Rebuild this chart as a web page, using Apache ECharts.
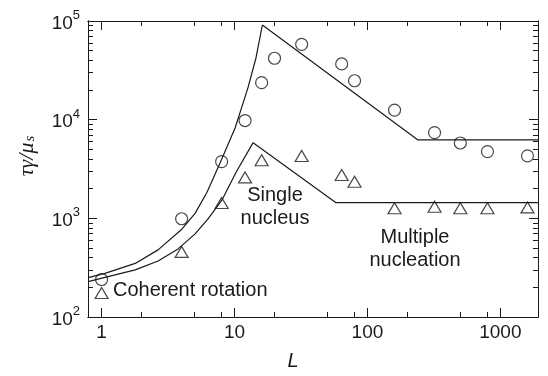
<!DOCTYPE html>
<html>
<head>
<meta charset="utf-8">
<script src="https://cdn.jsdelivr.net/npm/echarts@6/dist/echarts.min.js"></script>
<style>
html, body { margin: 0; padding: 0; background: #fff; }
#chart { width: 548px; height: 376px; }
</style>
</head>
<body>
<div id="chart"></div>
<script>
// measured points
const circleL = [1, 4, 8, 12, 16, 20, 32, 64, 80, 160, 320, 500, 800, 1600];
const circleVal = [240, 990, 3760, 9800, 23700, 41900, 58000, 36700, 24800, 12500, 7400, 5800, 4750, 4300];
const triL = [1, 4, 8, 12, 16, 32, 64, 80, 160, 320, 500, 800, 1600];
const triVal = [175, 457, 1430, 2600, 3880, 4280, 2750, 2350, 1265, 1310, 1265, 1265, 1290];

// model lines
const upperCurveL = [0.792, 1.06, 1.79, 2.66, 4.03, 5.05, 6.21, 7.78, 10.1, 12.6, 14.5, 16.2];
const upperCurveVal = [251, 277, 349, 479, 781, 1122, 1841, 3640, 8240, 20900, 42200, 91100];
const upperLineL = [16.2, 240, 1920];
const upperLineVal = [91100, 6230, 6230];
const lowerCurveL = [0.792, 1.06, 1.79, 2.66, 3.76, 5.05, 6.32, 8.05, 10.3, 13.8];
const lowerCurveVal = [228, 252, 300, 370, 490, 695, 986, 1536, 2950, 5850];
const lowerLineL = [13.8, 58, 1920];
const lowerLineVal = [5850, 1440, 1440];

// ticks
const xMajor = [1, 10, 100, 1000];
const xMinor = [2, 5, 8, 20, 50, 80, 200, 500, 800];
const yMajor = [100, 1000, 10000, 100000];
const yMinor = [200, 300, 400, 500, 600, 700, 800, 900,
  2000, 3000, 4000, 5000, 6000, 7000, 8000, 9000,
  20000, 30000, 40000, 50000, 60000, 70000, 80000, 90000];

const xMin = 0.79, xMax = 1920;
const yMin = 100, yMax = 100000;

const FONT = 'Liberation Sans';
const INK = '#1a1a1a';

const zip = (a, b) => a.map((v, i) => [v, b[i]]);

function xAxisOf(position, ticks, len, withLabels) {
  return {
    type: 'log',
    logBase: 10,
    gridIndex: 0,
    position: position,
    min: xMin,
    max: xMax,
    axisLine: { show: true, lineStyle: { color: INK, width: 1 } },
    axisTick: { show: true, inside: true, length: len, customValues: ticks, lineStyle: { color: INK, width: 1 } },
    axisLabel: {
      show: withLabels,
      customValues: xMajor,
      margin: 6,
      fontSize: 19,
      fontFamily: FONT,
      color: INK,
      formatter: v => String(v)
    },
    splitLine: { show: false },
    minorTick: { show: false }
  };
}

function yAxisOf(position, ticks, len, withLabels) {
  return {
    type: 'log',
    logBase: 10,
    gridIndex: 0,
    position: position,
    min: yMin,
    max: yMax,
    axisLine: { show: true, lineStyle: { color: INK, width: 1 } },
    axisTick: { show: true, inside: true, length: len, customValues: ticks, lineStyle: { color: INK, width: 1 } },
    axisLabel: {
      show: withLabels,
      customValues: yMajor,
      margin: 8,
      color: INK,
      fontFamily: FONT,
      formatter: v => '{b|10}{s|' + Math.round(Math.log10(v)) + '}',
      rich: {
        b: { fontSize: 19, fontFamily: FONT, color: INK, lineHeight: 24, verticalAlign: 'bottom' },
        s: { fontSize: 13, fontFamily: FONT, color: INK, lineHeight: 14, verticalAlign: 'top' }
      }
    },
    splitLine: { show: false },
    minorTick: { show: false }
  };
}

const xAxes = [
  xAxisOf('bottom', xMajor, 9, true),
  xAxisOf('bottom', xMinor, 5, false),
  xAxisOf('top', xMajor, 9, false),
  xAxisOf('top', xMinor, 5, false)
];
Object.assign(xAxes[0], {
  name: 'L',
  nameLocation: 'middle',
  nameGap: 34,
  nameTextStyle: { fontSize: 20, fontStyle: 'italic', fontFamily: FONT, color: INK, padding: [0, 40, 0, 0] }
});

const yAxes = [
  yAxisOf('left', yMajor, 9, true),
  yAxisOf('left', yMinor, 5, false),
  yAxisOf('right', yMajor, 9, false),
  yAxisOf('right', yMinor, 5, false)
];
Object.assign(yAxes[0], {
  name: '{a|τγ/μ}{b|s}',
  nameLocation: 'middle',
  nameRotate: 90,
  nameGap: 50,
  nameTextStyle: {
    padding: [0, 0, 0, 26],
    rich: {
      a: { fontSize: 22, fontStyle: 'italic', fontFamily: 'Liberation Serif', color: INK },
      b: { fontSize: 15, fontStyle: 'italic', fontFamily: 'Liberation Serif', color: INK, verticalAlign: 'bottom', padding: [7, 0, 0, 1] }
    }
  }
});

const lineStyle = { color: INK, width: 1.2 };

function modelLine(xs, ys) {
  return {
    type: 'line',
    data: zip(xs, ys),
    showSymbol: false,
    symbol: 'none',
    smooth: false,
    lineStyle: lineStyle,
    silent: true,
    z: 2
  };
}

const chart = echarts.init(document.getElementById('chart'), null, { renderer: 'canvas' });
chart.setOption({
  animation: false,
  backgroundColor: '#fff',
  grid: { left: 88, right: 10, top: 21, bottom: 59, containLabel: false, outerBoundsMode: 'none' },
  xAxis: xAxes,
  yAxis: yAxes,
  series: [
    modelLine(upperCurveL, upperCurveVal),
    modelLine(upperLineL, upperLineVal),
    modelLine(lowerCurveL, lowerCurveVal),
    modelLine(lowerLineL, lowerLineVal),
    {
      type: 'scatter',
      data: zip(circleL, circleVal),
      symbol: 'circle',
      symbolSize: 12,
      itemStyle: { color: 'rgba(255,255,255,0)', borderColor: INK, borderWidth: 1.2 },
      z: 3
    },
    {
      type: 'scatter',
      data: zip(triL, triVal),
      symbol: 'triangle',
      symbolSize: [13, 11],
      itemStyle: { color: 'rgba(255,255,255,0)', borderColor: INK, borderWidth: 1.2 },
      z: 3
    }
  ],
  graphic: [
    {
      type: 'text', x: 113, y: 290,
      style: { text: 'Coherent rotation', font: '20px "Liberation Sans"', fill: INK, align: 'left', verticalAlign: 'middle' }
    },
    {
      type: 'text', x: 275, y: 184,
      style: { text: 'Single\nnucleus', font: '20px "Liberation Sans"', fill: INK, align: 'center', verticalAlign: 'top', lineHeight: 23 }
    },
    {
      type: 'text', x: 415, y: 226,
      style: { text: 'Multiple\nnucleation', font: '20px "Liberation Sans"', fill: INK, align: 'center', verticalAlign: 'top', lineHeight: 23 }
    }
  ]
});
</script>
</body>
</html>
